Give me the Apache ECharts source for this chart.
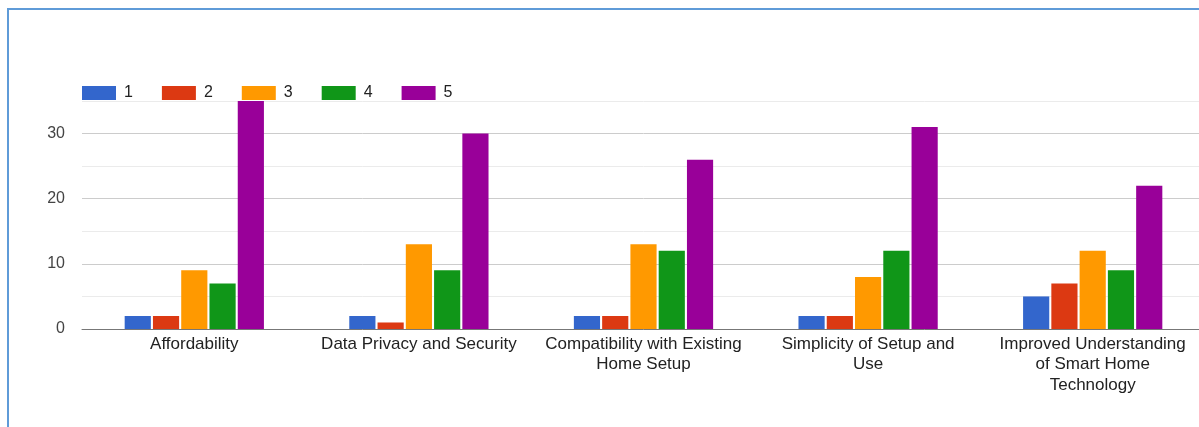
<!DOCTYPE html>
<html>
<head>
<meta charset="utf-8">
<script src="https://cdn.jsdelivr.net/npm/echarts@6/dist/echarts.min.js"></script>
<style>
  html, body { margin: 0; padding: 0; background: #fff; overflow: hidden; width: 1199px; height: 427px; }
  #chart { position: absolute; left: 0; top: 0; width: 1205px; height: 427px; }
  #frame { position: absolute; left: 7px; top: 8px; width: 1300px; height: 500px;
           border: 2px solid #5f9bd8; pointer-events: none; }
</style>
</head>
<body>
<div id="chart"></div>
<div id="frame"></div>
<script>
// ---- data ----
const categories = [
  "Affordability",
  "Data Privacy and Security",
  "Compatibility with Existing\nHome Setup",
  "Simplicity of Setup and\nUse",
  "Improved Understanding\nof Smart Home\nTechnology"
];
const seriesNames = ["1", "2", "3", "4", "5"];
const rating1 = [2, 2, 2, 2, 5];
const rating2 = [2, 1, 2, 2, 7];
const rating3 = [9, 13, 13, 8, 12];
const rating4 = [7, 9, 12, 12, 9];
const rating5 = [35, 30, 26, 31, 22];
const yTicks = [0, 10, 20, 30];
const colors = ["#3366cc", "#dc3912", "#ff9900", "#109618", "#990099"];

const values = [rating1, rating2, rating3, rating4, rating5];
const font = "'Liberation Sans', Arial, sans-serif";

const chart = echarts.init(document.getElementById('chart'), null, { renderer: 'canvas' });
chart.setOption({
  animation: false,
  color: colors,
  legend: {
    left: 77, top: 80,
    itemWidth: 34, itemHeight: 14, itemGap: 29,
    icon: 'rect',
    textStyle: { fontFamily: font, fontSize: 16, color: '#222', padding: [0, 0, 0, 3] },
    data: seriesNames
  },
  grid: { left: 82, right: 0, top: 101, bottom: 98, containLabel: false },
  xAxis: {
    type: 'category',
    data: categories,
    axisLine: { show: true, lineStyle: { color: '#777', width: 1 } },
    axisTick: { show: false },
    axisLabel: {
      interval: 0, margin: 5,
      fontFamily: font, fontSize: 17, color: '#222', lineHeight: 20.5
    }
  },
  yAxis: {
    type: 'value', min: 0, max: 35, interval: 5,
    axisLine: { show: false }, axisTick: { show: false },
    axisLabel: {
      margin: 17, fontFamily: font, fontSize: 16, color: '#444',
      formatter: v => (yTicks.indexOf(v) >= 0 ? String(v) : '')
    },
    splitLine: { lineStyle: { color: ['#cccccc', '#ebebeb'], width: 1 } }
  },
  series: seriesNames.map((n, i) => ({
    name: n, type: 'bar', data: values[i],
    barGap: '8%', barCategoryGap: '38%',
    itemStyle: { color: colors[i] }
  }))
});
</script>
</body>
</html>
